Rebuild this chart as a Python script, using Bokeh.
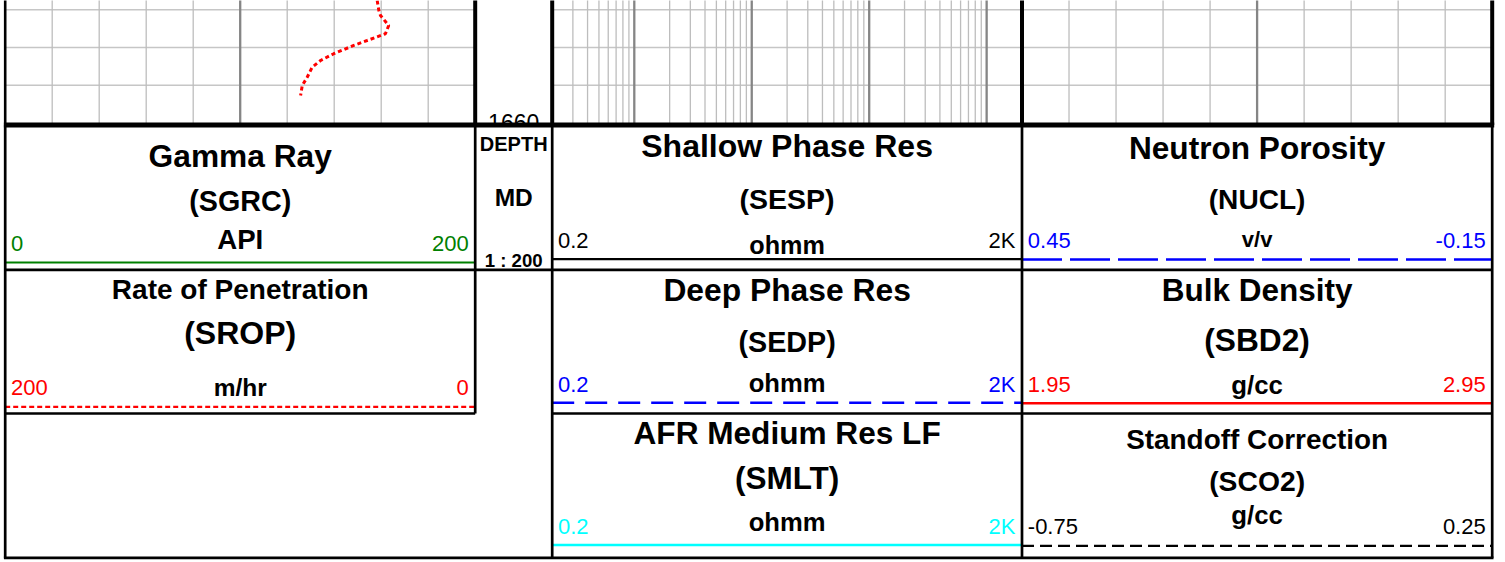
import math
from bokeh.plotting import figure
from bokeh.models import Range1d, LogScale
from bokeh.core.properties import value
from bokeh.embed import file_html
from bokeh.resources import INLINE

# ---------------- data ----------------
# Rate of penetration curve read off the track (depth in m MD, rate in m/hr)
rop_depth = [1653.51, 1654.04, 1654.30, 1654.83, 1655.27, 1655.63, 1655.89,
             1656.33, 1656.69, 1657.05, 1657.58, 1658.02, 1658.55]
rop_rate = [41.7, 41.0, 40.3, 36.8, 38.2, 46.0, 51.7,
            60.2, 65.8, 69.4, 71.5, 73.6, 74.3]

depth_grid = [1654, 1656, 1658]
depth_labels = [1660]
depth_bottom = 1660

gr_minor = [20, 40, 60, 80, 120, 140, 160, 180]
gr_major = [100]
res_minor = [0.3, 0.4, 0.5, 0.6, 0.7, 0.8, 0.9,
             2, 3, 4, 5, 6, 7, 8, 9,
             20, 30, 40, 50, 60, 70, 80, 90,
             200, 300, 400, 500, 600, 700, 800, 900]
res_major = [1, 10, 100, 1000]
por_minor = [0.39, 0.33, 0.27, 0.21, 0.09, 0.03, -0.03, -0.09]
por_major = [0.15]

curve_names = ["Gamma Ray", "Rate of Penetration", "Shallow Phase Res", "Deep Phase Res",
               "AFR Medium Res LF", "Neutron Porosity", "Bulk Density", "Standoff Correction"]
mnemonics = ["(SGRC)", "(SROP)", "(SESP)", "(SEDP)", "(SMLT)", "(NUCL)", "(SBD2)", "(SCO2)"]
units = ["API", "m/hr", "ohmm", "ohmm", "ohmm", "v/v", "g/cc", "g/cc"]
scale_left = ["0", "200", "0.2", "0.2", "0.2", "0.45", "1.95", "-0.75"]
scale_right = ["200", "0", "2K", "2K", "2K", "-0.15", "2.95", "0.25"]

depth_header = ["DEPTH", "MD", "1 : 200"]

# ---------------- styles / layout ----------------
curve_colors = ["#008000", "#ff0000", "#000000", "#0000ff", "#00ffff", "#0000ff", "#ff0000", "#000000"]
curve_dashes = ["solid", "5 3", "solid", "22 11", "solid", "40 8", "solid", "12 6"]
curve_widths = [2.2, 2.2, 2.2, 2.4, 2.6, 2.6, 2.6, 2.2]
title_fs = [31.7, 28, 32, 31.8, 31.6, 31.6, 31.5, 27.9]
mnem_fs = [28.7, 32, 28.5, 28.7, 31.5, 28.1, 31.7, 28.3]
unit_fs = [27.6, 24.5, 25.2, 25.6, 25.6, 22, 25.8, 25.8]
VAL_FS = 22

# page coordinates of column borders and header rows
XE = [4.7, 474.7, 551.7, 1021.5, 1491.7]
ROW_TOP = 124.5
ROWS = [124.5, 269.3, 413.0, 557.3]
panel_col = [0, 0, 2, 2, 2, 3, 3, 3]
# baselines: title, mnemonic, unit, scale values, curve sample line
panel_y = [
    (166.7, 210.0, 248.3, 251.0, 262.0),
    (298.3, 343.3, 395.0, 394.3, 406.3),
    (156.7, 208.3, 253.3, 247.7, 258.7),
    (301.0, 351.0, 391.7, 391.7, 402.3),
    (443.3, 488.3, 530.0, 533.3, 544.5),
    (158.3, 208.3, 246.7, 247.7, 259.0),
    (300.0, 350.0, 393.3, 391.7, 402.7),
    (448.3, 490.0, 523.3, 533.3, 545.3),
]
MID_SHIFT = 0.3465   # em distance from the alphabetic baseline up to the em-box middle

W, H = 1500, 560
PX_PER_M = 18.85
DEPTH_REF_Y = 122.4


def depth_at(py):
    return depth_bottom + (py - DEPTH_REF_Y) / PX_PER_M


def lin_at(px, x_a, v_a, x_b, v_b):
    return v_a + (px - x_a) * (v_b - v_a) / (x_b - x_a)


def log_at(px, x_a, v_a, x_b, v_b):
    la, lb = math.log10(v_a), math.log10(v_b)
    return 10 ** (la + (px - x_a) * (lb - la) / (x_b - x_a))


x_lo, x_hi = 0, W
y_bot, y_top = H, 0

extra_x = {
    "gr": Range1d(start=lin_at(x_lo, XE[0], 0, XE[1], 200), end=lin_at(x_hi, XE[0], 0, XE[1], 200)),
    "rop": Range1d(start=lin_at(x_lo, XE[0], 200, XE[1], 0), end=lin_at(x_hi, XE[0], 200, XE[1], 0)),
    "res": Range1d(start=log_at(x_lo, XE[2], 0.2, XE[3], 2000), end=log_at(x_hi, XE[2], 0.2, XE[3], 2000)),
    "por": Range1d(start=lin_at(x_lo, XE[3], 0.45, XE[4], -0.15), end=lin_at(x_hi, XE[3], 0.45, XE[4], -0.15)),
}
extra_y = {"depth": Range1d(start=depth_at(y_bot), end=depth_at(y_top))}

p = figure(width=W, height=H, output_backend="svg", toolbar_location=None, title=None,
           x_range=Range1d(x_lo, x_hi), y_range=Range1d(y_bot, y_top),
           x_axis_location=None, y_axis_location=None, min_border=0,
           extra_x_ranges=extra_x, extra_y_ranges=extra_y,
           extra_x_scales={"res": LogScale()},
           outline_line_color=None, background_fill_color="white", border_fill_color="white")
p.xgrid.visible = False
p.ygrid.visible = False

d_top = depth_at(y_top) - 1
MINOR = "#bdbdbd"
MAJOR = "#858585"


def vgrid(vals, rng, color, width):
    n = len(vals)
    p.segment(x0=vals, x1=vals, y0=[d_top] * n, y1=[depth_bottom] * n,
              x_range_name=rng, y_range_name="depth", line_color=color, line_width=width)


# horizontal depth grid lines in the three curve tracks
for a, b in [(XE[0], XE[1]), (XE[2], XE[3]), (XE[3], XE[4])]:
    n = len(depth_grid)
    p.segment(x0=[a] * n, x1=[b] * n, y0=depth_grid, y1=depth_grid,
              y_range_name="depth", line_color="#c6c6c6", line_width=1.5)

vgrid(gr_minor, "gr", MINOR, 1.3)
vgrid(gr_major, "gr", MAJOR, 2.3)
vgrid(res_minor, "res", MINOR, 1.3)
vgrid(res_major, "res", MAJOR, 2.3)
vgrid(por_minor, "por", MINOR, 1.3)
vgrid(por_major, "por", MAJOR, 2.3)

# ROP curve
p.line(x=rop_rate, y=rop_depth, x_range_name="rop", y_range_name="depth",
       line_color="#ff0000", line_width=3, line_dash="4 3")

# depth label
FONT = value("Liberation Sans")
p.text(x=[(XE[1] + XE[2]) / 2], y=depth_labels, text=[str(d) for d in depth_labels],
       y_range_name="depth", text_font=FONT, text_font_size=value("23px"),
       text_align="center", text_baseline="middle", text_color="black")

# header area background (covers the lower part of the depth label)
p.quad(left=[x_lo], right=[x_hi], top=[ROW_TOP], bottom=[y_bot], fill_color="white", line_color=None)


def txt(x, y, s, size, color="black", bold=True, align="center", font=FONT):
    # y is the alphabetic baseline; place the em-box middle accordingly
    p.text(x=[x], y=[y - MID_SHIFT * size], text=[s], text_font=font,
           text_font_size=value(f"{size}px"),
           text_font_style="bold" if bold else "normal", text_color=color,
           text_align=align, text_baseline="middle")


for i in range(len(curve_names)):
    c = panel_col[i]
    left = XE[c]
    right = XE[c + 1]
    cx = (XE[c] + XE[c + 1]) / 2
    ty, my, uy, vy, ly = panel_y[i]
    txt(cx, ty, curve_names[i], title_fs[i])
    txt(cx, my, mnemonics[i], mnem_fs[i])
    txt(cx, uy, units[i], unit_fs[i])
    txt(left + 5.8, vy, scale_left[i], VAL_FS, color=curve_colors[i], bold=False, align="left")
    txt(right - 6.5, vy, scale_right[i], VAL_FS, color=curve_colors[i], bold=False, align="right")
    p.segment(x0=[left], x1=[right], y0=[ly], y1=[ly], line_color=curve_colors[i],
              line_width=curve_widths[i], line_dash=curve_dashes[i])

# depth header texts
dcx = (XE[1] + XE[2]) / 2
txt(dcx, 150.0, depth_header[0], 20)
txt(dcx, 205.0, depth_header[1], 24.5)
txt(dcx, 266.5, depth_header[2], 18.6)

# ---------------- borders ----------------
def seg(x0, y0, x1, y1, w):
    p.segment(x0=[x0], y0=[y0], x1=[x1], y1=[y1], line_color="black", line_width=w)


# track borders
seg(XE[0], y_top - 2, XE[0], ROW_TOP, 2.6)
for x in [XE[1], XE[2], XE[3], XE[4]]:
    seg(x, y_top - 2, x, ROW_TOP, 4)
seg(XE[0] - 1.3, ROW_TOP, XE[4] + 2, ROW_TOP, 5)

# header borders
BW = 2.7
seg(XE[0], ROW_TOP, XE[0], ROWS[3], BW)
seg(XE[1], ROW_TOP, XE[1], ROWS[2], BW)
seg(XE[2], ROW_TOP, XE[2], ROWS[3], BW)
seg(XE[3], ROW_TOP, XE[3], ROWS[3], BW)
seg(XE[4], ROW_TOP, XE[4], ROWS[3], BW)
seg(XE[0], ROWS[1], XE[4], ROWS[1], BW)
seg(XE[0], ROWS[2], XE[1], ROWS[2], BW)
seg(XE[2], ROWS[2], XE[4], ROWS[2], BW)
seg(XE[0] - 1.3, ROWS[3], XE[4] + 1.3, ROWS[3], BW)

open("out.html", "w").write(file_html(p, INLINE))
